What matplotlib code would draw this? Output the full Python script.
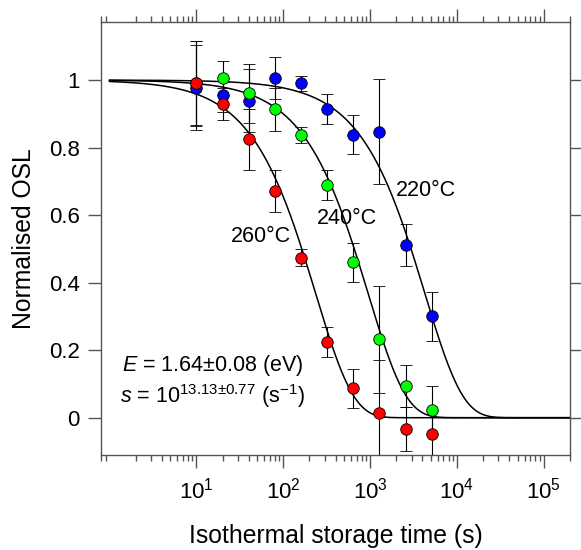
import numpy as np
import matplotlib
matplotlib.use("Agg")
import matplotlib.pyplot as plt
from matplotlib.ticker import LogLocator, NullFormatter, FixedLocator

plt.rcParams['font.family'] = ['Liberation Sans', 'DejaVu Sans']
plt.rcParams['mathtext.fontset'] = 'custom'
plt.rcParams['mathtext.rm'] = 'Liberation Sans'
plt.rcParams['mathtext.it'] = 'Liberation Sans:italic'

# storage times (s)
times = [10, 20, 40, 80, 160, 320, 640, 1280, 2560, 5120]

# normalised OSL and errors per storage temperature
osl_220 = [0.978, 0.956, 0.939, 1.006, 0.991, 0.915, 0.838, 0.847, 0.512, 0.300]
err_220 = [0.125, 0.050, 0.093, 0.063, 0.022, 0.045, 0.058, 0.155, 0.062, 0.072]
osl_240 = [0.990, 1.006, 0.961, 0.914, 0.837, 0.690, 0.460, 0.232, 0.094, 0.023]
err_240 = [0.125, 0.050, 0.088, 0.064, 0.023, 0.045, 0.058, 0.158, 0.063, 0.070]
osl_260 = [0.992, 0.930, 0.825, 0.671, 0.474, 0.225, 0.087, 0.015, -0.034, -0.049]
err_260 = [0.125, 0.047, 0.090, 0.063, 0.025, 0.044, 0.057, 0.156, 0.065, 0.070]

# fitted kinetic parameters
E_eV = 1.64
log_s = 13.13
k_B = 8.617e-5

series = [
    (osl_220, err_220, 220, '#0000ff'),
    (osl_240, err_240, 240, '#00ff00'),
    (osl_260, err_260, 260, '#ff0000'),
]

fig = plt.figure(figsize=(5.81, 5.5), dpi=100)
ax = fig.add_axes([0.174, 0.173, 0.807, 0.787])

t_fit = np.logspace(0, np.log10(2e5), 600)
for vals, errs, temp, col in series:
    rate = 10 ** log_s * np.exp(-E_eV / (k_B * (temp + 273.15)))
    ax.plot(t_fit, np.exp(-rate * t_fit), color='black', lw=1.1, zorder=2)

for vals, errs, temp, col in series:
    ax.errorbar(times, vals, yerr=errs, fmt='o', color=col, ms=8.3,
                mec='black', mew=0.6, ecolor='black', elinewidth=0.8,
                capsize=4.5, capthick=0.8, zorder=3)

ax.set_xscale('log')
ax.set_xlim(0.8, 2e5)
ax.set_ylim(-0.11, 1.172)

ax.xaxis.set_minor_locator(LogLocator(base=10, subs=np.arange(2, 10), numticks=20))
ax.xaxis.set_minor_formatter(NullFormatter())
ax.set_xticks([10, 100, 1000, 10000, 100000])
ax.set_xticklabels(['$10^1$', '$10^2$', '$10^3$', '$10^4$', '$10^5$'])
ax.yaxis.set_major_locator(FixedLocator([0, 0.2, 0.4, 0.6, 0.8, 1.0]))
ax.set_yticklabels(['0', '0.2', '0.4', '0.6', '0.8', '1'])

gray = '#555555'
for sp in ax.spines.values():
    sp.set_color(gray)
    sp.set_linewidth(1.0)
ax.tick_params(axis='both', which='major', direction='out', length=9.5,
               width=1.0, color=gray, labelsize=16, pad=6,
               top=True, right=True, labeltop=False, labelright=False)
ax.tick_params(axis='x', which='major', pad=7)
ax.tick_params(axis='x', which='minor', direction='out', length=4,
               width=1.0, color=gray, top=True)

ax.set_xlabel('Isothermal storage time (s)', fontsize=17.8, labelpad=15)
ax.set_ylabel('Normalised OSL', fontsize=17.8, labelpad=9)

ax.text(2000, 0.674, '220°C', fontsize=15.5, ha='left', va='center')
ax.text(244, 0.591, '240°C', fontsize=15.5, ha='left', va='center')
ax.text(25.2, 0.536, '260°C', fontsize=15.5, ha='left', va='center')

ax.text(15.3, 0.156, r'$E$ = 1.64±0.08 (eV)', fontsize=15.5, ha='center', va='center')
ax.text(15.3, 0.064, r'$s$ = 10$^{13.13±0.77}$ (s$^{-1}$)', fontsize=15.5,
        ha='center', va='center')

fig.savefig('out.png', dpi=100)
